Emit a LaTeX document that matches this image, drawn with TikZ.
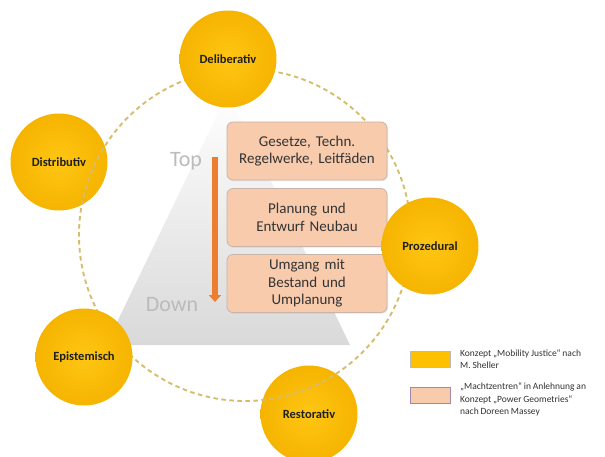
\documentclass[tikz,border=0pt]{standalone}
\usepackage{fontspec}
\setmainfont{Carlito}[WordSpace={0.85,0.5,0.5}]
\usetikzlibrary{arrows.meta,shadows}

\definecolor{gold}{HTML}{FFC000}
\definecolor{goldlight}{HTML}{FFC614}
\definecolor{golddark}{HTML}{F5B400}
\definecolor{salmon}{HTML}{F8CBAD}
\definecolor{salmonedge}{HTML}{C8B4AA}
\definecolor{arroworange}{HTML}{ED7D31}
\definecolor{ringtan}{HTML}{D6BD6E}
\definecolor{pyrgray}{HTML}{D9D9D9}
\definecolor{labelgray}{HTML}{BBBBBB}
\definecolor{textdark}{HTML}{333333}

\tikzset{
  justice/.style={circle, minimum size=97pt, inner sep=0pt,
    shading=radial, inner color=goldlight, outer color=golddark,
    font=\bfseries\fontsize{12.5}{14}\selectfont, text=black!88},
  level/.style={rectangle, rounded corners=6pt, fill=salmon, draw=salmonedge,
    line width=0.8pt, text width=152pt, align=center,
    minimum width=160pt, minimum height=58pt, inner sep=0pt,
    font=\fontsize{15}{17.5}\selectfont, text=textdark,
    drop shadow={opacity=0.18, shadow xshift=1pt, shadow yshift=-1.2pt}},
  ring/.style={draw=ringtan, line width=1.9pt, dash pattern=on 4.5pt off 3.5pt},
  flow/.style={draw=arroworange, line width=6.5pt,
    -{Triangle[width=12pt,length=7pt]}},
  axislabel/.style={text=labelgray, font=\fontsize{22}{24}\selectfont, inner sep=0pt},
  keybox/.style={rectangle, minimum width=40pt, minimum height=16pt, inner sep=0pt,
    line width=0.8pt},
  keytext/.style={anchor=west, align=left, inner sep=0pt, text=black!80,
    font=\fontsize{9.5}{12.5}\selectfont}
}

\begin{document}
\begin{tikzpicture}[x=1pt,y=-1pt]
  \useasboundingbox (0,0) rectangle (605,457);

  % pyramid in the background
  \shade[top color=white, bottom color=pyrgray]
    (228,92) -- (106,345) -- (350,345) -- cycle;

  % circles that lie beneath the dashed ring
  \node[justice] (distr) at (59,162) {Distributiv};
  \node[justice] (resto) at (309,414) {Restorativ};

  % dashed ring linking the justice dimensions
  \draw[ring] (245,235) circle[radius=166];

  % levels of the planning hierarchy
  \node[level] (laws) at (307,151) {Gesetze, Techn.\\Regelwerke, Leitfäden};
  \node[level] (plan) at (307,217.5) {Planung und\\Entwurf Neubau};
  \node[level] (stock) at (307,283.5) {Umgang mit\\Bestand und\\Umplanung};

  % top-down arrow with its labels
  \coordinate (arrtop) at (215,157);
  \coordinate (arrbot) at (215,302);
  \draw[flow] (arrtop) -- (arrbot);
  \node[axislabel] (toplbl) at (186,161) {Top};
  \node[axislabel] (downlbl) at (172,305) {Down};

  % circles on top of the ring
  \node[justice] (delib) at (228,59) {Deliberativ};
  \node[justice] (proz) at (430,246) {Prozedural};
  \node[justice] (epist) at (84,357) {Epistemisch};

  % legend
  \node[keybox, fill=gold, draw=gray!55] (keyA) at (430,359) {};
  \node[keytext] (keyAtxt) at (460,359)
    {Konzept „Mobility Justice“ nach\\M. Sheller};
  \node[keybox, fill=salmon, draw=gray!65!violet!70] (keyB) at (430,395.5) {};
  \node[keytext] (keyBtxt) at (460,399.5)
    {„Machtzentren“ in Anlehnung an\\Konzept „Power Geometries“\\nach Doreen Massey};
\end{tikzpicture}
\end{document}
